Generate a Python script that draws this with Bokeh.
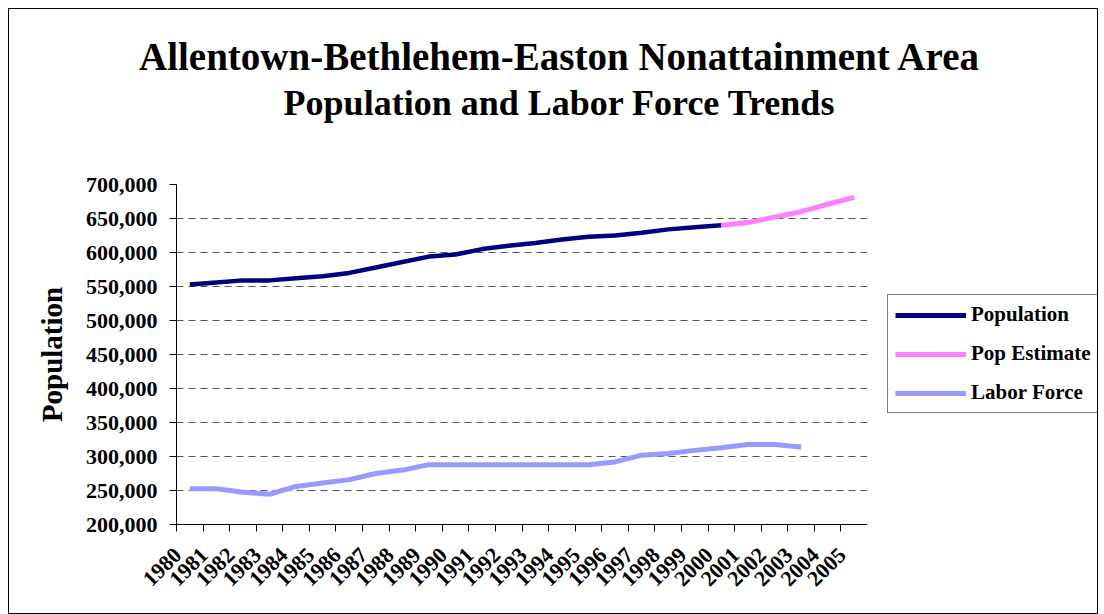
import math
from bokeh.plotting import figure
from bokeh.layouts import row, column
from bokeh.models import (Range1d, FixedTicker, NumeralTickFormatter, Legend,
                          LegendItem, Div)
from bokeh.embed import file_html
from bokeh.resources import INLINE

# ---- data ----
title_text = "Allentown-Bethlehem-Easton Nonattainment Area"
subtitle_text = "Population and Labor Force Trends"

years = [1980, 1981, 1982, 1983, 1984, 1985, 1986, 1987, 1988, 1989, 1990,
         1991, 1992, 1993, 1994, 1995, 1996, 1997, 1998, 1999, 2000, 2001,
         2002, 2003, 2004, 2005]
year_labels = [str(y) for y in years]

pop_years = years[:21]
pop_values = [553000, 556000, 559000, 559000, 562000, 565000, 570000, 578000,
              586000, 594000, 597000, 605000, 610000, 614000, 619000, 623000,
              625000, 629000, 634000, 637000, 640000]

est_years = years[20:]
est_values = [640000, 644000, 652000, 660000, 671000, 681000]

labor_years = years[:24]
labor_values = [252500, 252500, 247500, 244500, 256000, 261000, 266000,
                275000, 280000, 288000, 288000, 288000, 288000, 288000,
                288000, 288000, 292000, 302000, 304500, 309000, 313000,
                317500, 317500, 314000]

y_ticks = [200000, 250000, 300000, 350000, 400000, 450000, 500000, 550000,
           600000, 650000, 700000]

series_names = ["Population", "Pop Estimate", "Labor Force"]
series_colors = ["#000080", "#FF80FF", "#9999FF"]
series_x = [pop_years, est_years, labor_years]
series_y = [pop_values, est_values, labor_values]
series_widths = [4.5, 5, 5]

FONT = "Liberation Serif"

# ---- titles ----
head = Div(
    text=(f"<div style=\"width:1088px;box-sizing:border-box;padding-top:25px;"
          f"padding-left:12px;text-align:center;"
          f"font-family:'{FONT}';font-weight:bold;color:black;\">"
          f"<div style=\"font-size:39px;line-height:46px;\">{title_text}</div>"
          f"<div style=\"font-size:36px;line-height:46px;\">{subtitle_text}</div>"
          f"</div>"),
    width=1088, height=130, margin=0)

# ---- main plot ----
p = figure(frame_width=691, frame_height=340,
           x_range=Range1d(years[0] - 0.5, years[-1] + 0.5),
           y_range=Range1d(y_ticks[0], y_ticks[-1]),
           output_backend="svg", toolbar_location=None,
           min_border_left=167, min_border_right=0,
           min_border_top=45, min_border_bottom=89)
p.outline_line_color = None
p.background_fill_color = "white"
p.border_fill_color = "white"

for xs, ys, col, lw in zip(series_x, series_y, series_colors, series_widths):
    p.line(xs, ys, line_color=col, line_width=lw)

# y axis
p.yaxis.ticker = FixedTicker(ticks=y_ticks)
p.yaxis.formatter = NumeralTickFormatter(format="0,0")
p.yaxis.major_label_text_font = FONT
p.yaxis.major_label_text_font_style = "bold"
p.yaxis.major_label_text_font_size = "22px"
p.yaxis.major_label_text_color = "black"
p.yaxis.major_label_standoff = 12
p.yaxis.major_tick_out = 7
p.yaxis.major_tick_in = 0
p.yaxis.minor_tick_line_color = None
p.yaxis.axis_line_color = "black"
p.yaxis.major_tick_line_color = "black"
p.yaxis.axis_label = "Population"
p.yaxis.axis_label_text_font = FONT
p.yaxis.axis_label_text_font_style = "bold"
p.yaxis.axis_label_text_font_size = "29px"
p.yaxis.axis_label_text_color = "black"
p.yaxis.axis_label_standoff = 15

# x axis: labels near category centres, ticks between categories
label_pos = [y - 0.45 for y in years]
p.xaxis.ticker = FixedTicker(ticks=label_pos,
                             minor_ticks=[y - 0.5 for y in years] + [years[-1] + 0.5])
p.xaxis.major_label_overrides = {lp: lab for lp, lab in zip(label_pos, year_labels)}
p.xaxis.major_label_orientation = math.pi / 4
p.xaxis.major_label_text_font = FONT
p.xaxis.major_label_text_font_style = "bold"
p.xaxis.major_label_text_font_size = "22px"
p.xaxis.major_label_text_color = "black"
p.xaxis.major_label_standoff = 20
p.xaxis.major_tick_line_color = None
p.xaxis.major_tick_out = 0
p.xaxis.major_tick_in = 0
p.xaxis.minor_tick_out = 7
p.xaxis.minor_tick_in = 0
p.xaxis.minor_tick_line_color = "black"
p.xaxis.axis_line_color = "black"

p.xgrid.grid_line_color = None
p.ygrid.grid_line_color = "#555555"
p.ygrid.grid_line_dash = "7 5"
p.ygrid.grid_line_width = 1

# ---- legend panel: same series drawn outside its visible range ----
lg = figure(width=230, height=474, x_range=Range1d(0, 1), y_range=Range1d(0, 1),
            x_axis_type=None, y_axis_type=None, output_backend="svg",
            toolbar_location=None, min_border_left=0, min_border_right=0,
            min_border_top=45, min_border_bottom=89)
lg.outline_line_color = None
lg.background_fill_color = "white"
lg.border_fill_color = "white"
lg.xgrid.visible = False
lg.ygrid.visible = False
items = []
for name, xs, ys, col, lw in zip(series_names, series_x, series_y,
                                 series_colors, series_widths):
    r = lg.line(xs, ys, line_color=col, line_width=5)
    items.append(LegendItem(label=name, renderers=[r]))
legend = Legend(items=items, location=(20, 111), orientation="vertical",
                margin=0, label_text_font=FONT, label_text_font_style="bold",
                label_text_font_size="21px", label_text_color="black",
                glyph_width=71, glyph_height=24, label_height=24,
                label_standoff=5, spacing=14, padding=7,
                border_line_color="black", border_line_width=1,
                background_fill_color="white", background_fill_alpha=1)
lg.add_layout(legend)

layout = column(head, row(p, lg, spacing=0), spacing=0)
layout.styles = {"border": "1px solid black", "margin-left": "8px",
                 "margin-top": "8px", "background-color": "white"}

open("out.html", "w").write(file_html(layout, INLINE))
